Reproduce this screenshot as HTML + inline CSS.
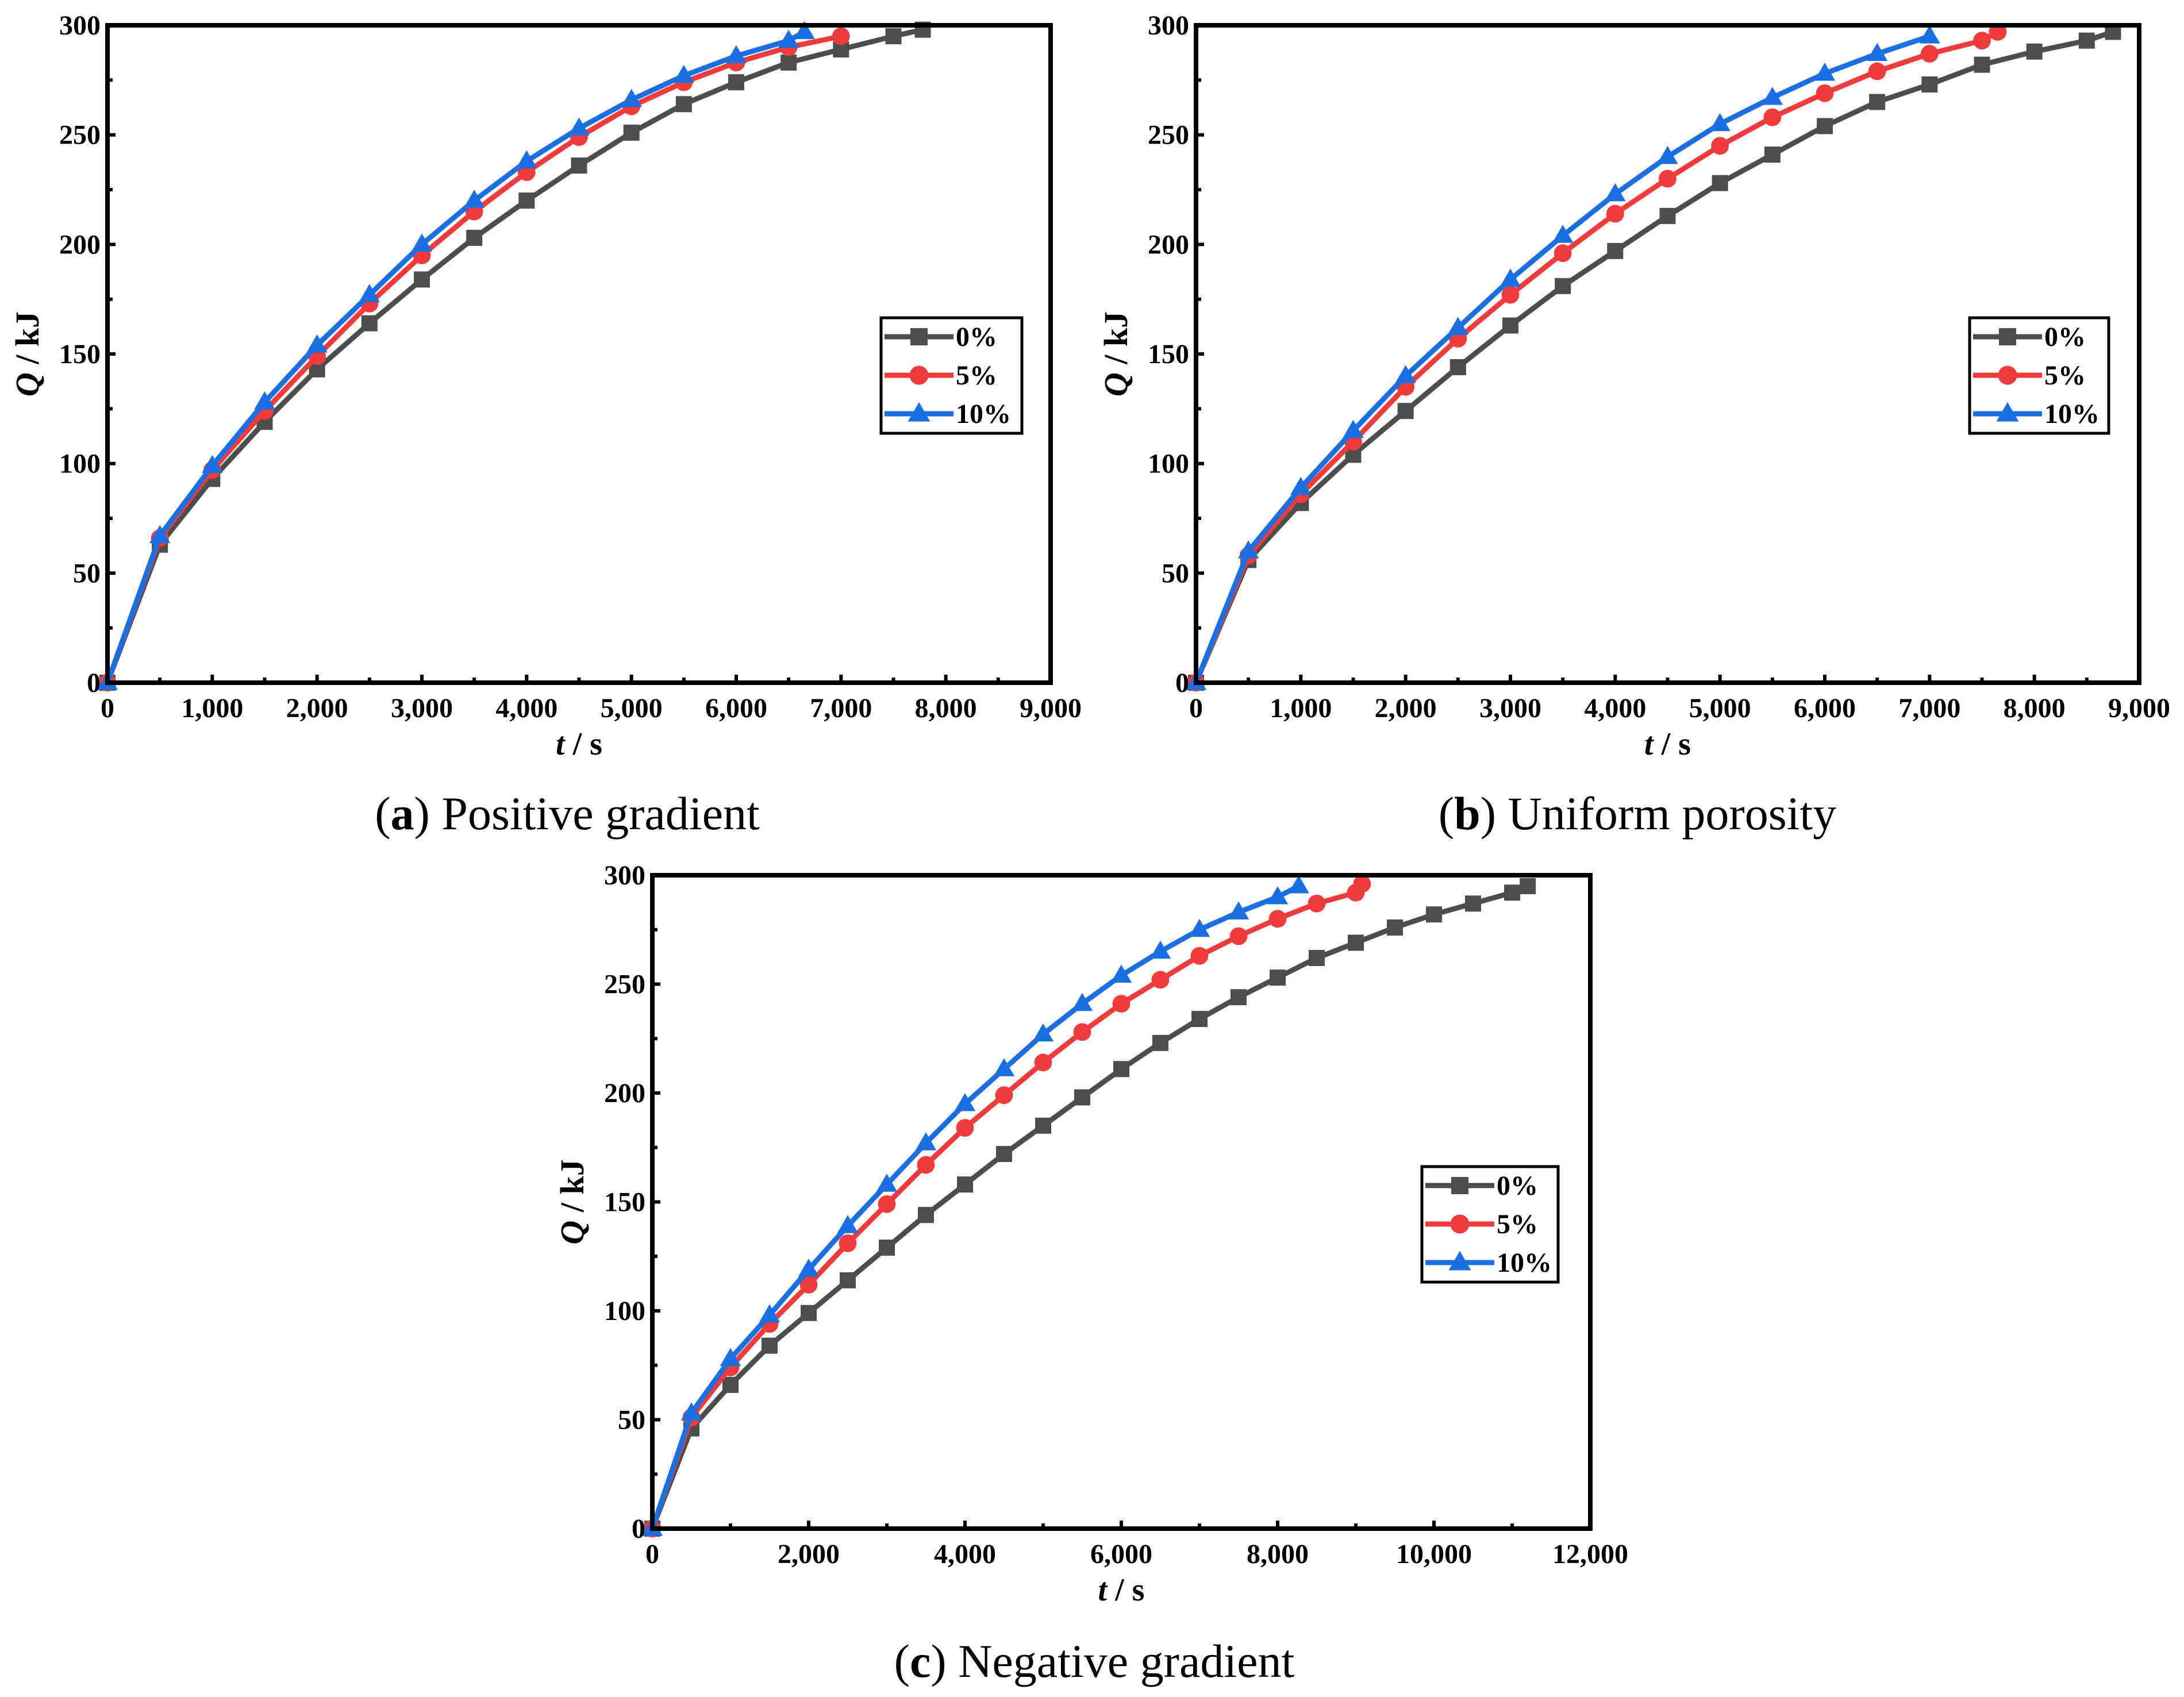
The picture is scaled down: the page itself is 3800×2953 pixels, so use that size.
<!DOCTYPE html>
<html><head><meta charset="utf-8"><style>
html,body{margin:0;padding:0;background:#fff}
svg{display:block}
text{font-family:"Liberation Serif",serif}
</style></head><body>
<svg id="fig" width="3800" height="2953" viewBox="0 0 3800 2953" xmlns="http://www.w3.org/2000/svg"></svg>
<script>
const aX = [0,500,1000,1500,2000,2500,3000,3500,4000,4500,5000,5500,6000,6500,7000,7500,7780];
const a0 = [0,63,93,119,143,164,184,203,220,236,251,264,274,283,289,295,298];
const a5X = [0,500,1000,1500,2000,2500,3000,3500,4000,4500,5000,5500,6000,6500,7000];
const a5 = [0,66,97,124,149,173,195,215,233,249,263,274,283,290,295];
const a10X = [0,500,1000,1500,2000,2500,3000,3500,4000,4500,5000,5500,6000,6500,6650];
const a10 = [0,67,99,128,154,177,200,220,238,253,266,277,286,293,297];

const bX = [0,500,1000,1500,2000,2500,3000,3500,4000,4500,5000,5500,6000,6500,7000,7500,8000,8500,8750];
const b0 = [0,56,82,104,124,144,163,181,197,213,228,241,254,265,273,282,288,293,297];
const b5X = [0,500,1000,1500,2000,2500,3000,3500,4000,4500,5000,5500,6000,6500,7000,7500,7650];
const b5 = [0,58,86,110,135,157,177,196,214,230,245,258,269,279,287,293,297];
const b10X = [0,500,1000,1500,2000,2500,3000,3500,4000,4500,5000,5500,6000,6500,7000];
const b10 = [0,60,89,115,140,162,184,204,223,240,255,267,278,287,295];

const cX = [0,500,1000,1500,2000,2500,3000,3500,4000,4500,5000,5500,6000,6500,7000,7500,8000,8500,9000,9500,10000,10500,11000,11200];
const c0 = [0,46,66,84,99,114,129,144,158,172,185,198,211,223,234,244,253,262,269,276,282,287,292,295];
const c5X = [0,500,1000,1500,2000,2500,3000,3500,4000,4500,5000,5500,6000,6500,7000,7500,8000,8500,9000,9080];
const c5 = [0,51,74,94,112,131,149,167,184,199,214,228,241,252,263,272,280,287,292,296];
const c10X = [0,500,1000,1500,2000,2500,3000,3500,4000,4500,5000,5500,6000,6500,7000,7500,8000,8270];
const c10 = [0,53,78,98,119,139,158,177,195,211,227,241,254,265,275,283,290,295];

const yTicks = [0,50,100,150,200,250,300];
const xTicksAB = [0,1000,2000,3000,4000,5000,6000,7000,8000,9000];
const xTicksC = [0,2000,4000,6000,8000,10000,12000];
const legendLabels = ["0%","5%","10%"];

const NS="http://www.w3.org/2000/svg";
const svg=document.getElementById('fig');
function mk(tag,attrs,parent){const e=document.createElementNS(NS,tag);for(const k in attrs)e.setAttribute(k,attrs[k]);(parent||svg).appendChild(e);return e;}
const colors=["#4d4d4d","#ef3b3b","#1c6fe0"];
function marker(g,type,x,y,c,s){
  let m;
  if(type===0){m=mk('rect',{x:x-s,y:y-s,width:2*s,height:2*s,fill:c},g);}
  else if(type===1){m=mk('circle',{cx:x,cy:y,r:s*1.1,fill:c},g);}
  else {m=mk('polygon',{points:`${x},${y-s*1.35} ${x+s*1.3},${y+s*0.9} ${x-s*1.3},${y+s*0.9}`,fill:c},g);}
  return m;
}
function fmt(v){return v.toLocaleString('en-US');}

function panel(id,L,R,T,B,xmax,xTicks,xStep,series,leg,capX,capY,capLetter,capText){
  const g=mk('g',{});
  
  
  const sx=v=>L+(v/xmax)*(R-L), sy=v=>B-(v/300)*(B-T);
  series.forEach((s,i)=>{
    const sg=mk('g',{},g);
    
    
    const pts=s.x.map((v,j)=>sx(v)+','+sy(s.y[j])).join(' ');
    mk('polyline',{points:pts,fill:'none',stroke:colors[i],'stroke-width':9,'stroke-linejoin':'round'},sg);
    s.x.forEach((v,j)=>{const m=marker(sg,i,sx(v),sy(s.y[j]),colors[i],14);
      
      });
  });
  const fr=mk('rect',{x:L,y:T,width:R-L,height:B-T,fill:'none',stroke:'#000','stroke-width':8},g);
  
  
  for(let v=0;v<=300;v+=25){const y=sy(v);const len=(v%50===0)?14:9;mk('line',{x1:L,y1:y,x2:L+len,y2:y,stroke:'#000','stroke-width':6},g);}
  yTicks.forEach(v=>{const t=mk('text',{x:L-12,y:sy(v)+16,'text-anchor':'end','font-size':48,'font-weight':'bold'},g);t.textContent=v;
    
    });
  for(let v=0;v<=xmax;v+=xStep/2){const x=sx(v);const len=(v%xStep===0)?14:9;mk('line',{x1:x,y1:B,x2:x,y2:B-len,stroke:'#000','stroke-width':6},g);}
  xTicks.forEach(v=>{const t=mk('text',{x:sx(v),y:B+60,'text-anchor':'middle','font-size':48,'font-weight':'bold'},g);t.textContent=fmt(v);
    
    });
  const xt=mk('text',{x:(L+R)/2,y:B+125,'text-anchor':'middle','font-size':56,'font-weight':'bold'},g);
  xt.innerHTML='<tspan font-style="italic">t</tspan> / s';
  
  
  const yt=mk('text',{x:0,y:0,'text-anchor':'middle','font-size':58,'font-weight':'bold',transform:`translate(${L-120},${(T+B)/2}) rotate(-90)`},g);
  yt.innerHTML='<tspan font-style="italic">Q</tspan> / kJ';
  
  
  const lg=mk('g',{},g);
  
  
  mk('rect',{x:leg[0],y:leg[1],width:leg[2],height:leg[3],fill:'#fff',stroke:'#000','stroke-width':5},lg);
  legendLabels.forEach((lab,i)=>{
    const e=mk('g',{},lg);
    
    
    const y=leg[1]+33+i*67;
    mk('line',{x1:leg[0]+6,y1:y,x2:leg[0]+126,y2:y,stroke:colors[i],'stroke-width':9},e);
    marker(e,i,leg[0]+66,y,colors[i],15);
    const t=mk('text',{x:leg[0]+130,y:y+16,'font-size':48,'font-weight':'bold'},e);t.textContent=lab;
  });
  const cap=mk('text',{x:capX,y:capY,'text-anchor':'middle','font-size':82},g);
  cap.innerHTML=`(<tspan font-weight="bold">${capLetter}</tspan>) ${capText}`;
  
  
}
panel('a',187,1828,44,1188,9000,xTicksAB,1000,[{x:aX,y:a0},{x:a5X,y:a5},{x:a10X,y:a10}],[1533,553,245,201],987,1443,'a','Positive gradient');
panel('b',2081,3722,44,1188,9000,xTicksAB,1000,[{x:bX,y:b0},{x:b5X,y:b5},{x:b10X,y:b10}],[3427,553,242,201],2849,1443,'b','Uniform porosity');
panel('c',1135,2767,1523,2660,12000,xTicksC,2000,[{x:cX,y:c0},{x:c5X,y:c5},{x:c10X,y:c10}],[2474,2030,237,201],1904,2918,'c','Negative gradient');
</script>
</body></html>
